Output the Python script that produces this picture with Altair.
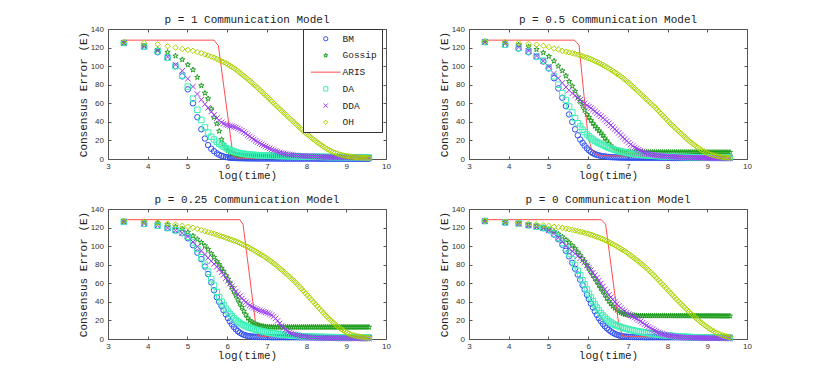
import altair as alt
import pandas as pd

MONO = "Liberation Mono"
SANS = "Liberation Sans"
FRAME = "#555555"
W, H = 278, 130

SERIES = ["BM", "Gossip", "ARIS", "DA", "DDA", "OH"]
COLORS = ["#2f4ff2", "#1e9e1e", "#ff4d4d", "#3df0b6", "#9a3cf0", "#aad400"]
STAR = ("M0,-1L0.2245,-0.309L0.951,-0.309L0.363,0.118L0.588,0.809L0,0.382"
        "L-0.588,0.809L-0.363,0.118L-0.951,-0.309L-0.2245,-0.309Z")
XMARK = "M-1,-1L1,1M-1,1L1,-1"
LINE = "M-7,0L7,0"
SHAPES = ["circle", STAR, LINE, "square", XMARK, "diamond"]

X_TICKS = [3, 4, 5, 6, 7, 8, 9, 10]
Y_TICKS = [0, 20, 40, 60, 80, 100, 120, 140]

# log(time) sample positions shared by every marker series (91 samples)
X_GRID = [3.40, 3.91, 4.25, 4.50, 4.70, 4.87, 5.01, 5.14, 5.25, 5.35,
          5.44, 5.52, 5.60, 5.67, 5.74, 5.80, 5.86, 5.91, 5.97, 6.02,
          6.07, 6.12, 6.17, 6.22, 6.27, 6.32, 6.37, 6.42, 6.47, 6.52,
          6.57, 6.62, 6.67, 6.72, 6.77, 6.82, 6.87, 6.92, 6.97, 7.02,
          7.07, 7.12, 7.17, 7.22, 7.27, 7.32, 7.37, 7.42, 7.47, 7.52,
          7.57, 7.62, 7.67, 7.72, 7.77, 7.82, 7.87, 7.92, 7.97, 8.02,
          8.07, 8.12, 8.17, 8.22, 8.27, 8.32, 8.37, 8.42, 8.47, 8.52,
          8.57, 8.62, 8.67, 8.72, 8.77, 8.82, 8.87, 8.92, 8.97, 9.02,
          9.07, 9.12, 9.17, 9.22, 9.27, 9.32, 9.37, 9.42, 9.47, 9.52,
          9.57]

# ---------------- p = 1 ----------------
BM_P1 = [125, 121, 115, 109, 100, 89, 75, 60, 45, 32,
         22, 15, 11, 8.4, 6, 4.5, 3.4, 2.7, 2.1, 1.7,
         1.4, 1.2, 1.1, 1.0, 0.9, 0.8, 0.8, 0.7, 0.7, 0.6,
         0.6, 0.6, 0.6, 0.5, 0.5, 0.5, 0.5, 0.5, 0.5, 0.5,
         0.5, 0.5, 0.5, 0.5, 0.5, 0.4, 0.4, 0.4, 0.4, 0.4,
         0.4, 0.4, 0.4, 0.4, 0.4, 0.4, 0.4, 0.4, 0.4, 0.4,
         0.4, 0.4, 0.4, 0.4, 0.4, 0.3, 0.3, 0.3, 0.3, 0.3,
         0.3, 0.3, 0.3, 0.3, 0.3, 0.3, 0.3, 0.3, 0.3, 0.3,
         0.3, 0.3, 0.3, 0.3, 0.3, 0.3, 0.3, 0.3, 0.3, 0.3,
         0.3]
GOSSIP_P1 = [125, 122, 118, 115, 111, 107, 101.5, 96, 88, 79,
             71, 65, 54, 45, 38, 30, 21, 16, 12, 9.3,
             7.8, 6.6, 5.6, 5, 4.6, 4.3, 4, 3.8, 3.6, 3.4,
             3.3, 3.2, 3.1, 3, 2.9, 2.9, 2.8, 2.8, 2.7, 2.7,
             2.6, 2.6, 2.6, 2.5, 2.5, 2.5, 2.5, 2.4, 2.4, 2.4,
             2.4, 2.4, 2.4, 2.4, 2.4, 2.4, 2.4, 2.4, 2.4, 2.4,
             2.4, 2.4, 2.4, 2.4, 2.4, 2.3, 2.3, 2.3, 2.3, 2.3,
             2.3, 2.3, 2.3, 2.3, 2.3, 2.3, 2.3, 2.3, 2.3, 2.3,
             2.3, 2.3, 2.3, 2.3, 2.3, 2.3, 2.3, 2.3, 2.3, 2.3,
             2.3]
DA_P1 = [125, 121, 116, 109, 100, 90, 78, 65, 53, 42,
         34, 28.5, 24, 21, 18.5, 16.5, 14.8, 13.3, 11.8, 10.8,
         9.8, 8.9, 8.1, 7.4, 6.8, 6.3, 5.9, 5.6, 5.3, 5.0,
         4.8, 4.6, 4.4, 4.3, 4.1, 4.0, 3.9, 3.8, 3.7, 3.6,
         3.5, 3.5, 3.4, 3.4, 3.3, 3.3, 3.2, 3.2, 3.1, 3.1,
         3.0, 3.0, 2.9, 2.9, 2.8, 2.8, 2.7, 2.7, 2.6, 2.6,
         2.5, 2.5, 2.5, 2.4, 2.4, 2.4, 2.3, 2.3, 2.3, 2.2,
         2.2, 2.2, 2.2, 2.1, 2.1, 2.1, 2.1, 2.0, 2.0, 2.0,
         2.0, 1.9, 1.9, 1.9, 1.9, 1.8, 1.8, 1.8, 1.8, 1.8,
         1.7]
DDA_P1 = [125, 122, 116.5, 110, 101.5, 95, 86.5, 78, 70, 64,
          59, 55, 51, 47.5, 44, 41.5, 39.5, 38, 37, 36.3,
          35.8, 35.3, 34.7, 34, 33, 31.8, 30.5, 29, 27.5, 25.8,
          24.2, 22.6, 21, 19.6, 18.3, 17, 15.8, 14.6, 13.5, 12.4,
          11.4, 10.4, 9.5, 8.6, 7.8, 7.1, 6.5, 5.9, 5.4, 5.0,
          4.7, 4.4, 4.1, 3.9, 3.7, 3.5, 3.4, 3.2, 3.1, 3.0,
          2.9, 2.8, 2.7, 2.6, 2.5, 2.4, 2.3, 2.3, 2.2, 2.1,
          2.1, 2.0, 2.0, 1.9, 1.9, 1.8, 1.8, 1.8, 1.7, 1.7,
          1.7, 1.6, 1.6, 1.6, 1.5, 1.5, 1.5, 1.4, 1.4, 1.4,
          1.3]
OH_P1 = [126, 125, 123.5, 121.5, 120, 118.5, 117.5, 116.5, 115, 114,
         112.7, 111.5, 110.3, 109.2, 107.8, 106.5, 105.3, 104.3, 103, 101.8,
         100.5, 99.2, 97.8, 96.3, 94.7, 93, 91.2, 89.5, 87.7, 86,
         84.2, 82.3, 80.3, 78.5, 76.6, 74.5, 72.5, 70.5, 68.5, 66.5,
         64.5, 62.3, 60.2, 58, 56, 54, 52, 50, 48, 46,
         44, 42, 40, 38, 36, 34, 32, 30, 28, 26.5,
         24.8, 23, 21.3, 19.6, 18, 16.5, 15, 13.5, 12, 10.7,
         9.6, 8.5, 7.5, 6.7, 5.9, 5.2, 4.6, 4.0, 3.5, 3.1,
         2.8, 2.5, 2.2, 2.0, 1.8, 1.6, 1.5, 1.4, 1.3, 1.2,
         1.2]
ARIS_X_P1 = [3.40, 5.67, 5.78, 6.15, 6.25, 9.55]
ARIS_Y_P1 = [128, 128, 122, 3, 1, 0.5]

# ---------------- p = 0.5 ----------------
BM_P05 = [126, 123, 119, 115, 110, 105, 97.5, 87, 76, 66,
          57, 48, 40, 32, 25.5, 21, 17.5, 14.5, 11.5, 9.3,
          7.6, 6.3, 5.3, 4.5, 3.9, 3.4, 3.0, 2.7, 2.4, 2.2,
          2.0, 1.9, 1.8, 1.7, 1.6, 1.5, 1.5, 1.4, 1.4, 1.3,
          1.3, 1.3, 1.3, 1.3, 1.3, 1.2, 1.2, 1.2, 1.2, 1.2,
          1.2, 1.2, 1.2, 1.2, 1.2, 1.2, 1.2, 1.2, 1.2, 1.2,
          1.1, 1.1, 1.1, 1.1, 1.1, 1.1, 1.1, 1.1, 1.1, 1.1,
          1.1, 1.1, 1.1, 1.1, 1.1, 1.1, 1.1, 1.1, 1.1, 1.1,
          1.0, 1.0, 1.0, 1.0, 1.0, 1.0, 1.0, 1.0, 1.0, 1.0,
          1.0]
GOSSIP_P05 = [126.5, 125, 123, 121, 118, 114.5, 110.5, 105.5, 100, 95,
              89.5, 83.5, 78.5, 73, 66.5, 62, 57, 52.5, 48, 45,
              41.5, 38.5, 35.5, 33, 30.5, 28, 25.5, 22.5, 19.5, 16.5,
              14, 12.5, 11, 10, 9.2, 8.6, 8.1, 7.8, 7.6, 7.5,
              7.4, 7.4, 7.3, 7.3, 7.3, 7.3, 7.3, 7.3, 7.3, 7.3,
              7.3, 7.3, 7.3, 7.3, 7.3, 7.3, 7.3, 7.3, 7.3, 7.3,
              7.3, 7.3, 7.3, 7.3, 7.3, 7.3, 7.3, 7.3, 7.3, 7.3,
              7.3, 7.3, 7.3, 7.3, 7.3, 7.2, 7.2, 7.2, 7.2, 7.2,
              7.2, 7.2, 7.2, 7.2, 7.2, 7.2, 7.2, 7.2, 7.2, 7.2,
              7.2]
DA_P05 = [126, 123, 119.5, 116, 110.5, 106, 98.5, 89, 80, 71,
          63.5, 56.5, 50, 44, 38.5, 35, 31.5, 29, 26.5, 24.5,
          22.5, 21, 19.5, 18.3, 17.2, 16.2, 15.2, 14.2, 13.2, 12.3,
          11.4, 10.6, 9.9, 9.3, 8.7, 8.2, 7.7, 7.2, 6.8, 6.4,
          6.0, 5.7, 5.4, 5.1, 4.8, 4.6, 4.4, 4.2, 4.0, 3.8,
          3.6, 3.5, 3.4, 3.3, 3.2, 3.1, 3.0, 2.9, 2.8, 2.7,
          2.6, 2.5, 2.5, 2.4, 2.3, 2.3, 2.2, 2.2, 2.1, 2.1,
          2.0, 2.0, 1.9, 1.9, 1.9, 1.8, 1.8, 1.8, 1.7, 1.7,
          1.7, 1.7, 1.6, 1.6, 1.6, 1.6, 1.5, 1.5, 1.5, 1.5,
          1.5]
DDA_P05 = [126, 124.5, 120.5, 116.5, 111, 105.5, 99.5, 92, 87, 82,
           77.5, 74, 70.7, 68.3, 65.8, 63.7, 61.6, 59.9, 57.8, 56.4,
           54.8, 53.1, 51.3, 49.6, 47.8, 46.1, 44.3, 42.4, 40.4, 38.4,
           36.3, 34.3, 32.3, 30.3, 28.1, 25.9, 23.7, 21.5, 19.5, 17.5,
           15.7, 14, 12.4, 11.2, 10, 8.9, 7.9, 7.0, 6.3, 5.6,
           5.1, 4.7, 4.3, 4.0, 3.7, 3.4, 3.2, 3.0, 2.8, 2.6,
           2.4, 2.3, 2.2, 2.0, 1.9, 1.8, 1.7, 1.6, 1.5, 1.5,
           1.4, 1.4, 1.3, 1.3, 1.2, 1.2, 1.2, 1.2, 1.1, 1.1,
           1.1, 1.1, 1.0, 1.0, 1.0, 1.0, 1.0, 0.9, 0.9, 0.9,
           0.9]
OH_P05 = [126.5, 126, 125, 124, 123, 122, 120.5, 119, 118, 116.5,
          115.6, 114.8, 114, 113.3, 112.3, 111.6, 110.9, 110.1, 109.2, 108.5,
          107.6, 106.6, 105.6, 104.6, 103.6, 102.6, 101.4, 100.1, 98.8, 97.6,
          96.4, 94.9, 93.4, 92, 90.5, 89, 87.5, 85.7, 84, 82,
          80.2, 78.2, 76.2, 74.2, 72.2, 70.2, 68.2, 66.2, 64.2, 62.2,
          60.2, 58.2, 56.2, 54, 51.8, 49.5, 47.3, 45, 42.8, 40.5,
          38.2, 36.2, 34.2, 32.2, 30.2, 28.2, 26.2, 24.2, 22.2, 20.3,
          18.6, 16.8, 15.1, 13.6, 12.1, 10.6, 9.2, 8, 6.8, 5.9,
          5.1, 4.4, 3.8, 3.3, 2.9, 2.5, 2.1, 1.8, 1.6, 1.4,
          1.2]
ARIS_X_P05 = [3.40, 5.65, 5.77, 6.00, 6.10, 6.20, 6.35, 9.55]
ARIS_Y_P05 = [128, 128, 123, 23, 9, 5, 3.5, 2.5]

# ---------------- p = 0.25 ----------------
BM_P025 = [126.3, 124, 122, 119.5, 117, 114, 108.5, 101, 93, 86,
           78, 70, 61, 52.5, 45, 40, 35.5, 31, 26.5, 22.5,
           19, 15.8, 13, 10.5, 8.4, 6.8, 5.5, 4.5, 3.8, 3.3,
           3.0, 2.7, 2.5, 2.4, 2.3, 2.2, 2.1, 2.1, 2.0, 2.0,
           2.0, 1.9, 1.9, 1.9, 1.9, 1.9, 1.9, 1.9, 1.9, 1.9,
           1.9, 1.9, 1.9, 1.9, 1.9, 1.8, 1.8, 1.8, 1.8, 1.8,
           1.8, 1.8, 1.8, 1.8, 1.8, 1.8, 1.8, 1.8, 1.8, 1.8,
           1.8, 1.8, 1.8, 1.8, 1.8, 1.7, 1.7, 1.7, 1.7, 1.7,
           1.7, 1.7, 1.7, 1.7, 1.7, 1.7, 1.7, 1.7, 1.7, 1.7,
           1.7]
GOSSIP_P025 = [126.5, 126, 125, 123, 121, 118.5, 115, 111, 107.5, 104,
               100.4, 96.5, 92, 88, 83.6, 80.2, 76.3, 72.7, 68.3, 64.5,
               60.2, 55.7, 51.2, 46.7, 42.2, 38, 34, 30, 26, 22.5,
               20, 18.3, 17, 16, 15.2, 14.5, 14, 13.6, 13.3, 13.1,
               13, 12.9, 12.9, 12.8, 12.8, 12.8, 12.8, 12.8, 12.8, 12.8,
               12.8, 12.8, 12.8, 12.8, 12.8, 12.8, 12.8, 12.8, 12.8, 12.8,
               12.8, 12.8, 12.8, 12.8, 12.8, 12.8, 12.8, 12.8, 12.8, 12.8,
               12.8, 12.8, 12.8, 12.8, 12.8, 12.8, 12.8, 12.8, 12.8, 12.8,
               12.8, 12.8, 12.8, 12.8, 12.8, 12.8, 12.8, 12.8, 12.8, 12.8,
               12.8]
DA_P025 = [126.3, 124, 122, 119.5, 117, 114.5, 110, 104, 97, 88,
           80, 72.5, 64.5, 57.5, 50.5, 45, 40, 36.5, 32.5, 29.5,
           27, 24.5, 22.3, 20.3, 18.7, 17.2, 15.9, 14.8, 13.8, 12.9,
           12.1, 11.4, 10.7, 10.1, 9.5, 9, 8.5, 8, 7.6, 7.2,
           6.8, 6.4, 6.1, 5.8, 5.5, 5.2, 4.9, 4.6, 4.4, 4.2,
           4.0, 3.8, 3.6, 3.4, 3.3, 3.1, 3.0, 2.9, 2.8, 2.7,
           2.6, 2.5, 2.4, 2.4, 2.3, 2.3, 2.2, 2.2, 2.1, 2.1,
           2.0, 2.0, 2.0, 1.9, 1.9, 1.9, 1.9, 1.8, 1.8, 1.8,
           1.8, 1.8, 1.8, 1.7, 1.7, 1.7, 1.7, 1.7, 1.7, 1.7,
           1.7]
DDA_P025 = [126.3, 124.5, 122.3, 119.6, 117, 114, 110.3, 104.5, 99.5, 95,
            91, 87.4, 83.8, 80.8, 77.9, 74.9, 71.9, 69.2, 65.6, 62.6,
            59.8, 56.8, 54, 51.2, 48.5, 46, 43.5, 41.5, 39.6, 37.8,
            36.2, 34.8, 33.6, 32.5, 31.6, 30.8, 30, 29.3, 28.6, 27.9,
            27, 25.8, 24.2, 22.1, 19.5, 16.8, 14.1, 11.9, 10, 8.4,
            7.1, 6, 5.2, 4.6, 4, 3.5, 3.1, 2.7, 2.4, 2.1,
            1.9, 1.7, 1.5, 1.4, 1.3, 1.2, 1.1, 1.1, 1.0, 1.0,
            0.9, 0.9, 0.9, 0.9, 0.8, 0.8, 0.8, 0.8, 0.8, 0.7,
            0.7, 0.7, 0.7, 0.7, 0.7, 0.6, 0.6, 0.6, 0.6, 0.6,
            0.6]
OH_P025 = [127, 126.3, 125.3, 124.3, 123.3, 122, 121, 119.8, 118.5, 117.3,
           116.1, 115.1, 114.1, 113.2, 112.3, 111.4, 110.6, 109.8, 108.9, 108.2,
           107.4, 106.7, 105.9, 105.2, 104.3, 103.3, 102.2, 101.3, 100.2, 99.2,
           98, 96.8, 95.5, 94.3, 93, 91.8, 90.4, 89.2, 87.7, 86.3,
           84.8, 83.2, 81.6, 79.9, 78.1, 76.3, 74.5, 72.7, 70.8, 68.9,
           67, 65, 63, 60.9, 58.7, 56.4, 54.1, 51.8, 49.4, 47.1,
           44.8, 42.4, 40, 37.7, 35.3, 33, 30.6, 28.3, 26, 23.8,
           21.7, 19.7, 17.7, 15.8, 14, 12.3, 10.7, 9.3, 8, 6.8,
           5.8, 4.9, 4.2, 3.6, 3.1, 2.7, 2.3, 2.0, 1.7, 1.5,
           1.4]
ARIS_X_P025 = [3.40, 6.32, 6.40, 6.74, 6.80, 9.55]
ARIS_Y_P025 = [128.5, 128.5, 123.5, 9, 3, 1.5]

# ---------------- p = 0 ----------------
BM_P0 = [127, 125.5, 124.5, 122.5, 121, 119.5, 117, 112.5, 107.5, 101.5,
         95, 89, 82, 75.7, 69.4, 63.8, 58, 53.3, 47.6, 42.9,
         38.2, 34, 29.8, 26, 22.5, 19.3, 16.3, 13.8, 11.7, 9.8,
         8.2, 6.8, 5.6, 4.7, 4, 3.4, 3, 2.7, 2.5, 2.3,
         2.2, 2.1, 2.1, 2.0, 2.0, 2.0, 2.0, 1.9, 1.9, 1.9,
         1.9, 1.9, 1.9, 1.9, 1.9, 1.9, 1.9, 1.9, 1.9, 1.9,
         1.9, 1.9, 1.9, 1.9, 1.9, 1.8, 1.8, 1.8, 1.8, 1.8,
         1.8, 1.8, 1.8, 1.8, 1.8, 1.8, 1.8, 1.8, 1.8, 1.8,
         1.8, 1.8, 1.8, 1.8, 1.8, 1.8, 1.8, 1.8, 1.8, 1.8,
         1.8]
GOSSIP_P0 = [127, 126.3, 124.5, 123, 121.5, 120, 118, 116, 113, 110,
             106.8, 104, 100.6, 97.4, 93.5, 90.2, 86.6, 83.3, 79.3, 75.8,
             72.2, 68.5, 64.9, 61.5, 58, 54.5, 51, 47.5, 44, 40.8,
             38, 35.4, 33.2, 31.2, 29.6, 28.3, 27.3, 26.6, 26.1, 25.8,
             25.6, 25.4, 25.3, 25.2, 25.1, 25, 25, 25, 25, 25,
             25, 25, 25, 25, 25, 25, 25, 25, 25, 25,
             25, 25, 25, 25, 25, 25, 25, 25, 25, 25,
             25, 25, 25, 25, 25, 24.9, 24.9, 24.9, 24.9, 24.9,
             24.9, 24.9, 24.9, 24.9, 24.9, 24.8, 24.8, 24.8, 24.8, 24.8,
             24.8]
DA_P0 = [127, 125.5, 124.5, 122.5, 121, 119.5, 117.5, 113.5, 109, 103.5,
         97.6, 92.1, 85.6, 79.7, 73.5, 68.4, 63.3, 58.7, 53.3, 48.8,
         44.6, 40.8, 37.2, 33.8, 30.7, 27.8, 25.3, 23.1, 21.1, 19.3,
         17.8, 16.5, 15.4, 14.5, 13.7, 12.9, 12.2, 11.6, 11, 10.4,
         9.9, 9.4, 9, 8.5, 8.1, 7.7, 7.3, 6.9, 6.6, 6.3,
         6, 5.7, 5.4, 5.1, 4.9, 4.6, 4.4, 4.1, 3.9, 3.7,
         3.5, 3.3, 3.1, 3.0, 2.8, 2.7, 2.5, 2.4, 2.3, 2.2,
         2.1, 2.0, 1.9, 1.9, 1.8, 1.8, 1.7, 1.7, 1.6, 1.6,
         1.5, 1.5, 1.5, 1.4, 1.4, 1.4, 1.4, 1.3, 1.3, 1.3,
         1.3]
DDA_P0 = [127, 125.5, 124, 122.5, 121, 119.5, 117, 113.5, 109, 104.5,
          100.4, 97.5, 94.6, 92, 89.4, 87, 84.6, 82.3, 79.4, 76.9,
          74.2, 71.4, 68.7, 66, 63, 59.8, 56.6, 53.5, 50.5, 47.5,
          44.9, 42.5, 40, 37.6, 35.5, 33.4, 31.6, 29.9, 28.3, 26.7,
          25.5, 24.3, 23.1, 21.8, 20.5, 19, 17.5, 16, 14.5, 13.1,
          11.8, 10.5, 9.3, 8.2, 7.2, 6.4, 5.6, 4.9, 4.3, 3.8,
          3.4, 3.0, 2.7, 2.4, 2.1, 1.9, 1.7, 1.6, 1.5, 1.4,
          1.3, 1.2, 1.2, 1.1, 1.1, 1.0, 1.0, 1.0, 0.9, 0.9,
          0.9, 0.9, 0.9, 0.9, 0.9, 0.8, 0.8, 0.8, 0.8, 0.8,
          0.8]
OH_P0 = [127.5, 126.3, 125.3, 124.3, 123.3, 122.5, 121.8, 121, 120.3, 119.6,
         118.9, 118.2, 117.6, 117, 116.2, 115.6, 115, 114.4, 113.7, 113.1,
         112.3, 111.6, 110.8, 110.1, 109.3, 108.5, 107.6, 106.6, 105.6, 104.5,
         103.3, 102.2, 101, 99.8, 98.6, 97.4, 96, 94.7, 93.2, 91.7,
         90.1, 88.5, 86.8, 85.1, 83.4, 81.7, 79.9, 78.1, 76.2, 74.2,
         72.1, 70, 67.9, 65.7, 63.5, 61.3, 59, 56.8, 54.5, 52.1,
         49.8, 47.6, 45.3, 43, 40.8, 38.6, 36.5, 34.4, 32.3, 30.2,
         28.2, 26.2, 24.2, 22.3, 20.4, 18.6, 16.9, 15.3, 13.7, 12.2,
         10.7, 9.4, 8.1, 6.9, 5.9, 5, 4.1, 3.4, 2.8, 2.3,
         2.0]
ARIS_X_P0 = [3.40, 6.33, 6.44, 6.77, 6.83, 6.87, 9.55]
ARIS_Y_P0 = [128.5, 128.5, 123.5, 16, 8.5, 3, 1.5]


def frame(names, lists):
    rows = []
    for name, ys in zip(names, lists):
        for x, y in zip(X_GRID, ys):
            rows.append({"x": x, "y": y, "series": name})
    return pd.DataFrame(rows)


def tick_axis(orient, offset, values):
    return alt.Axis(orient=orient, offset=offset, values=values, labels=False,
                    domain=False, grid=False, ticks=True, tickSize=3,
                    tickColor=FRAME, tickWidth=1, title=None)


def panel(title, bm, gossip, da, dda, oh, aris_x, aris_y, show_legend):
    xs = alt.Scale(domain=[3, 10], nice=False, zero=False)
    ys = alt.Scale(domain=[0, 140], nice=False, zero=False)
    if show_legend:
        leg = alt.Legend(orient="none", legendX=195, legendY=0, title=None,
                         padding=5, strokeColor="#333333", fillColor="white",
                         symbolSize=18, symbolStrokeWidth=1, symbolOffset=13,
                         labelOffset=12, rowPadding=5.7, labelFont=MONO,
                         labelFontSize=9.5, labelColor="#222222")
    else:
        leg = None
    color = alt.Color("series:N", scale=alt.Scale(domain=SERIES, range=COLORS),
                      legend=leg)
    shape = alt.Shape("series:N", scale=alt.Scale(domain=SERIES, range=SHAPES),
                      legend=leg)

    x_lab = alt.Axis(orient="bottom", values=X_TICKS, format="d", ticks=False,
                     tickSize=0, domain=False, grid=False, labelPadding=3,
                     labelFlush=False, labelFont=SANS, labelFontSize=8,
                     labelColor="#333333", title="log(time)", titleFont=MONO,
                     titleFontSize=11, titleFontWeight="normal",
                     titleColor="#222222", titlePadding=-1)
    y_lab = alt.Axis(orient="left", values=Y_TICKS, format="d", ticks=False,
                     tickSize=0, domain=False, grid=False, labelPadding=4.5,
                     labelFont=SANS, labelFontSize=8, labelColor="#333333",
                     title="Consensus Error (E)", titleFont=MONO,
                     titleFontSize=11, titleFontWeight="normal",
                     titleColor="#222222", titlePadding=1.5)

    pts = dict(filled=False, size=30, strokeWidth=1, opacity=1)
    a = alt.Chart(frame(["BM", "Gossip"], [bm, gossip])).mark_point(**pts).encode(
        x=alt.X("x:Q", scale=xs, axis=x_lab),
        y=alt.Y("y:Q", scale=ys, axis=y_lab),
        color=color, shape=shape)
    b = alt.Chart(pd.DataFrame({"x": aris_x, "y": aris_y})).mark_line(
        color=COLORS[2], strokeWidth=1).encode(
        x=alt.X("x:Q", scale=xs, axis=tick_axis("top", -H, X_TICKS)),
        y=alt.Y("y:Q", scale=ys, axis=tick_axis("right", -W, Y_TICKS)))
    c = alt.Chart(frame(["DA", "DDA", "OH"], [da, dda, oh])).mark_point(**pts).encode(
        x=alt.X("x:Q", scale=xs, axis=tick_axis("bottom", -H, X_TICKS)),
        y=alt.Y("y:Q", scale=ys, axis=tick_axis("left", -W, Y_TICKS)),
        color=color, shape=shape)
    return alt.layer(a, b, c).resolve_axis(x="independent", y="independent").properties(
        width=W, height=H,
        title=alt.TitleParams(text=title, font=MONO, fontSize=11,
                              fontWeight="normal", color="#222222", offset=0,
                              anchor="middle"))


p1 = panel("p = 1 Communication Model", BM_P1, GOSSIP_P1, DA_P1, DDA_P1, OH_P1,
           ARIS_X_P1, ARIS_Y_P1, True)
p2 = panel("p = 0.5 Communication Model", BM_P05, GOSSIP_P05, DA_P05, DDA_P05,
           OH_P05, ARIS_X_P05, ARIS_Y_P05, False)
p3 = panel("p = 0.25 Communication Model", BM_P025, GOSSIP_P025, DA_P025,
           DDA_P025, OH_P025, ARIS_X_P025, ARIS_Y_P025, False)
p4 = panel("p = 0 Communication Model", BM_P0, GOSSIP_P0, DA_P0, DDA_P0, OH_P0,
           ARIS_X_P0, ARIS_Y_P0, False)

row1 = alt.hconcat(p1, p2, spacing=47).resolve_scale(color="independent",
                                                     shape="independent")
row2 = alt.hconcat(p3, p4, spacing=47).resolve_scale(color="independent",
                                                     shape="independent")
chart = alt.vconcat(row1, row2, spacing=12).resolve_scale(
    color="independent", shape="independent").properties(
    padding={"left": 69, "top": 5, "right": 5, "bottom": 5},
    background="white").configure_view(stroke=FRAME, strokeWidth=1)

chart.save("out.html", embed_options={"renderer": "svg", "actions": False})
